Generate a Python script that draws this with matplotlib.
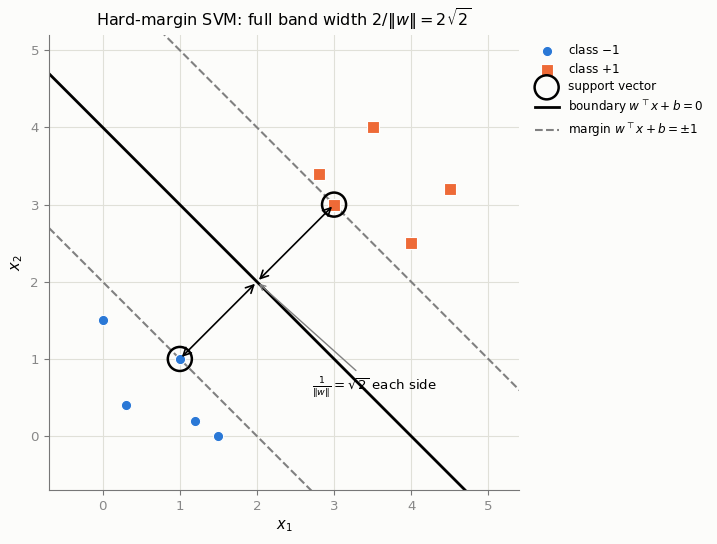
import numpy as np
import matplotlib
matplotlib.use("Agg")
import matplotlib.pyplot as plt

# data
neg_x = [0.0, 0.3, 1.0, 1.2, 1.5]
neg_y = [1.5, 0.4, 1.0, 0.2, 0.0]
pos_x = [2.8, 3.0, 3.5, 4.0, 4.5]
pos_y = [3.4, 3.0, 4.0, 2.5, 3.2]
sv_x = [1.0, 3.0]
sv_y = [1.0, 3.0]
w = np.array([0.5, 0.5])
b = -2.0

blue = "#2a78d6"
orange = "#ee6a37"
bg = "#fcfcfa"

fig, ax = plt.subplots(figsize=(7.17, 5.44), dpi=100)
fig.patch.set_facecolor(bg)
ax.set_facecolor(bg)
fig.subplots_adjust(left=0.068, right=0.724, top=0.936, bottom=0.099)

ax.scatter(neg_x, neg_y, s=55, c=blue, edgecolors="white", linewidths=0.8, zorder=3, label="class $-1$")
ax.scatter(pos_x, pos_y, s=70, c=orange, marker="s", edgecolors="white", linewidths=0.8, zorder=3, label="class $+1$")
ax.scatter(sv_x, sv_y, s=300, facecolors="none", edgecolors="black", linewidths=1.8, zorder=4, label="support vector")

xs = np.array([-1.0, 6.0])
ax.plot(xs, (-b - w[0] * xs) / w[1], color="black", lw=2, label=r"boundary $w^\top x + b = 0$")
ax.plot(xs, (1 - b - w[0] * xs) / w[1], color="gray", lw=1.5, ls="--", label=r"margin $w^\top x + b = \pm 1$")
ax.plot(xs, (-1 - b - w[0] * xs) / w[1], color="gray", lw=1.5, ls="--")

ax.annotate("", xy=(1, 1), xytext=(2, 2), arrowprops=dict(arrowstyle="<->", color="black", lw=1.2, mutation_scale=14))
ax.annotate("", xy=(3, 3), xytext=(2, 2), arrowprops=dict(arrowstyle="<->", color="black", lw=1.2, mutation_scale=14))
ax.annotate(r"$\frac{1}{\|w\|} = \sqrt{2}$ each side", xy=(2, 2), xytext=(2.72, 0.63),
            fontsize=9.6, va="center",
            arrowprops=dict(arrowstyle="->", color="gray", lw=1))

ax.set_xlim(-0.7, 5.4)
ax.set_ylim(-0.7, 5.2)
ax.set_xticks(range(0, 6))
ax.set_yticks(range(0, 6))
ax.grid(True, color="#e0e0d8", lw=0.8)
ax.set_axisbelow(True)
for s in ["top", "right"]:
    ax.spines[s].set_visible(False)
for s in ["left", "bottom"]:
    ax.spines[s].set_color("#777777")
ax.tick_params(colors="#777777", labelsize=9.6, labelcolor="#888888")
ax.set_xlabel("$x_1$", fontsize=10.5)
ax.set_ylabel("$x_2$", fontsize=10.5)
ax.set_title(r"Hard-margin SVM: full band width $2/\|w\| = 2\sqrt{2}$", fontsize=11.5)

ax.legend(loc="upper left", bbox_to_anchor=(1.01, 1.005), frameon=False, fontsize=8.65, labelspacing=0.38)

fig.savefig("out.png", dpi=100, facecolor=bg)
